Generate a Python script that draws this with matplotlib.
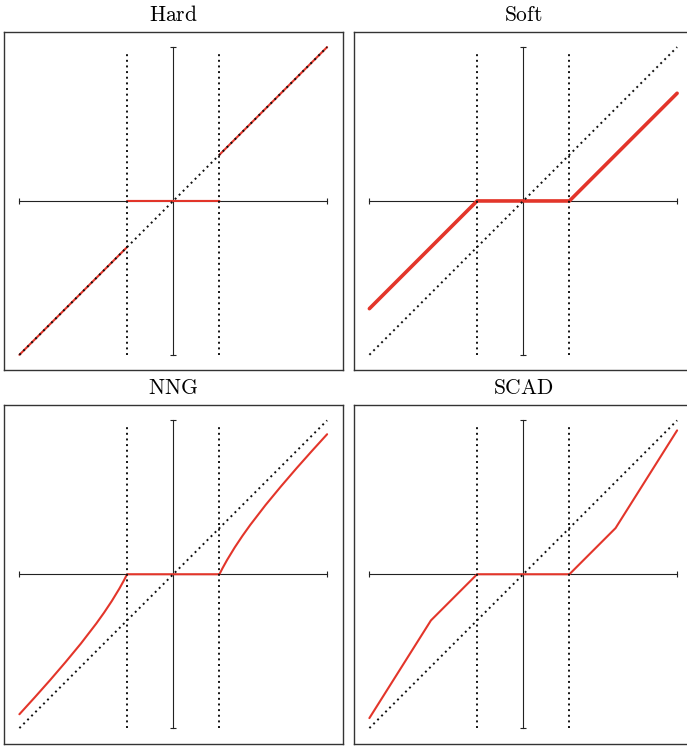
import numpy as np
import matplotlib.pyplot as plt

plt.rcParams['mathtext.fontset'] = 'cm'

# threshold and panel names
lam = 0.3
titles = ['Hard', 'Soft', 'NNG', 'SCAD']

# Hard thresholding (jumps at +-lam, split with nan)
hard_x = [-1.0, -0.3, np.nan, -0.3, 0.3, np.nan, 0.3, 1.0]
hard_y = [-1.0, -0.3, np.nan, 0.0, 0.0, np.nan, 0.3, 1.0]

# Soft thresholding
soft_x = [-1.0, -0.3, 0.3, 1.0]
soft_y = [-0.7, 0.0, 0.0, 0.7]

# Non-negative garrote
nng_x = [-1.0, -0.9, -0.8, -0.7, -0.6, -0.5, -0.45, -0.4, -0.35, -0.32, -0.3,
         0.3, 0.32, 0.35, 0.4, 0.45, 0.5, 0.6, 0.7, 0.8, 0.9, 1.0]
nng_y = [-0.91, -0.8, -0.6875, -0.571, -0.45, -0.32, -0.25, -0.175, -0.093, -0.039, 0.0,
         0.0, 0.039, 0.093, 0.175, 0.25, 0.32, 0.45, 0.571, 0.6875, 0.8, 0.91]

# SCAD
scad_x = [-1.0, -0.6, -0.3, 0.3, 0.6, 1.0]
scad_y = [-0.935, -0.3, 0.0, 0.0, 0.3, 0.935]

curves = [(hard_x, hard_y, 1.5), (soft_x, soft_y, 2.6),
          (nng_x, nng_y, 1.5), (scad_x, scad_y, 1.5)]

red = '#e3352a'
W, H = 687, 746
fig = plt.figure(figsize=(W / 100, H / 100), dpi=100)

# axes boxes in pixels: left, top
boxes = [(4, 31.7), (354, 31.7), (4, 405), (354, 405)]
size = 338.5
dots = (0, (1, 1.9))

for (px, py), title, (cx, cy, lw) in zip(boxes, titles, curves):
    ax = fig.add_axes([px / W, 1 - (py + size) / H, size / W, size / H])
    ax.set_xlim(-1.1, 1.1)
    ax.set_ylim(-1.1, 1.1)
    ax.set_xticks([])
    ax.set_yticks([])
    for s in ax.spines.values():
        s.set_color('#333333')
        s.set_linewidth(1.0)

    # coordinate axes with end caps
    ax.plot([-1, 1], [0, 0], color='#222222', lw=0.8)
    ax.plot([-1, 1], [0, 0], ls='none', marker='|', ms=5, mew=0.8, color='#222222')
    ax.plot([0, 0], [-1, 1], color='#222222', lw=0.8)
    ax.plot([0, 0], [-1, 1], ls='none', marker='_', ms=5, mew=0.8, color='#222222')

    # thresholding rule
    ax.plot(cx, cy, color=red, lw=lw, solid_capstyle='round', zorder=3)

    # identity line and threshold markers
    ax.plot([-1, 1], [-1, 1], color='#111111', lw=1.4, ls=dots, zorder=4)
    for t in (-lam, lam):
        ax.plot([t, t], [-1, 0.965], color='#111111', lw=1.4, ls=dots, zorder=4)

    ax.set_title(r'$\mathrm{' + title + '}$', fontsize=15.5, pad=8)

fig.savefig('out.png', dpi=100)
